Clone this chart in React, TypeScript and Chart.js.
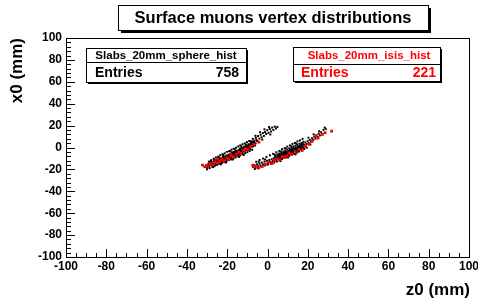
import { useEffect, useRef } from "react";
import { Chart, registerables } from "chart.js";

Chart.register(...registerables);

const TITLE = "Surface muons vertex distributions";
const X_TITLE = "z0 (mm)";
const Y_TITLE = "x0 (mm)";
const AXIS_MIN = -100;
const AXIS_MAX = 100;
const MAJOR_STEP = 20;
const X_MINOR_STEP = 5;
const Y_MINOR_STEP = 4;

const SPHERE_NAME = "Slabs_20mm_sphere_hist";
const SPHERE_ENTRIES = 758;
const ISIS_NAME = "Slabs_20mm_isis_hist";
const ISIS_ENTRIES = 221;

// [z0, x0] pairs (left band)
const sphereLeftBand: number[][] = [
  [-31.2,-17.9],[-30.5,-16.2],[-29.8,-18.4],[-29.4,-15.1],[-28.9,-17.0],[-28.5,-14.3],[-28.0,-15.8],[-27.7,-13.2],
  [-27.2,-16.4],[-26.9,-14.7],[-26.5,-12.6],[-26.1,-13.9],[-25.8,-15.5],[-25.4,-11.8],[-25.1,-13.4],[-24.8,-12.1],
  [-24.4,-14.6],[-24.2,-10.9],[-23.9,-12.8],[-23.5,-11.4],[-23.2,-13.7],[-22.9,-9.8],[-22.7,-12.2],[-22.4,-10.6],
  [-22.1,-11.9],[-21.8,-8.7],[-21.6,-10.3],[-21.3,-12.4],[-21.0,-9.5],[-20.7,-7.9],[-20.5,-11.0],[-20.2,-9.2],
  [-19.9,-7.1],[-19.7,-10.1],[-19.4,-8.4],[-19.1,-6.6],[-18.9,-9.7],[-18.6,-7.5],[-18.3,-5.8],[-18.1,-8.9],
  [-17.8,-6.9],[-17.5,-8.1],[-17.3,-5.2],[-17.0,-7.4],[-16.8,-4.6],[-16.5,-6.3],[-16.2,-8.0],[-16.0,-5.5],
  [-15.7,-3.9],[-15.5,-6.8],[-15.2,-4.8],[-14.9,-3.1],[-14.7,-5.9],[-14.4,-4.2],[-14.1,-2.4],[-13.9,-5.1],
  [-13.6,-3.5],[-13.3,-1.7],[-13.1,-4.4],[-12.8,-2.8],[-12.5,-0.9],[-12.3,-3.9],[-12.0,-2.0],[-11.7,-0.3],
  [-11.5,-3.1],[-11.2,-1.2],[-10.9,0.6],[-10.6,-2.2],[-10.3,-0.4],[-10.1,1.5],[-9.8,-1.3],[-9.5,0.4],
  [-9.2,2.3],[-8.9,-0.5],[-8.6,1.2],[-8.3,3.1],[-8.0,0.3],[-7.7,2.0],[-7.4,3.9],[-7.1,1.1],[-6.8,2.8],
  [-6.5,4.6],[-6.2,1.9],[-5.9,3.7],
  [-23.8,-10.1],[-22.0,-8.1],[-20.9,-10.8],[-19.6,-8.8],[-18.4,-10.3],[-17.6,-4.4],[-16.4,-5.0],[-15.3,-7.3],
  [-14.0,-6.2],[-13.4,-2.6],[-22.5,-13.2],[-26.3,-11.2],[-27.5,-15.0],[-12.6,-4.7],[-11.0,-2.8],[-9.9,-0.1],
  [-8.7,-1.6],[-7.8,4.7],
  [-29.1,-13.0],[-27.9,-11.6],[-26.7,-10.2],[-25.6,-9.1],[-24.5,-8.3],[-23.4,-7.0],[-22.3,-6.1],[-21.2,-5.3],
  [-20.1,-4.0],[-19.0,-3.2],[-17.9,-2.0],[-16.8,-1.1],[-15.6,-0.2],[-14.5,1.0],[-13.5,1.9],[-12.4,3.0],
  [-11.3,3.8],[-10.2,4.9],[-9.1,6.0],[-28.2,-12.4],[-24.0,-9.0],[-21.9,-6.8],[-18.5,-3.6],[-16.1,-2.1],
  [-13.0,0.9],[-10.8,2.7],
  [-30.0,-19.9],[-28.7,-18.8],[-27.4,-17.6],[-26.2,-16.8],[-25.0,-15.9],[-23.7,-14.9],[-22.5,-14.1],[-21.4,-13.3],
  [-20.3,-12.5],[-19.2,-11.4],[-18.0,-10.8],[-16.9,-9.9],[-15.8,-9.0],[-14.6,-7.9],[-13.5,-7.1],[-12.3,-6.0],
  [-11.1,-5.1],[-10.0,-4.3],[-8.9,-3.2],[-7.6,-2.1],[-26.9,-17.9],[-23.1,-15.4],[-20.6,-13.8],[-17.3,-11.0],
  [-14.1,-8.6],[-11.8,-6.8],
  [-25.2,-12.9],[-24.1,-11.6],[-23.0,-10.5],[-21.9,-9.9],[-20.8,-8.6],[-19.8,-7.7],[-18.8,-6.3],[-17.7,-5.9],
  [-16.6,-4.1],[-15.6,-3.3],[-14.6,-2.8],[-13.7,-1.0],[-12.7,-0.3],[-11.6,0.7],[-10.5,1.9],[-9.4,3.0],
  [-8.4,3.9],[-7.5,5.4],[-6.7,5.1],[-5.5,6.9],
  [-8.2,5.6],[-7.3,7.9],[-6.6,6.2],[-5.8,8.8],[-5.1,5.9],[-4.7,10.4],[-4.0,8.1],[-3.4,11.6],[-2.9,9.3],
  [-2.3,13.2],[-1.8,10.6],[-1.2,14.1],[-0.6,12.3],[-0.1,15.8],[0.5,13.4],[1.1,16.9],[1.7,14.6],[2.3,18.2],
  [2.9,16.0],[3.6,19.0],[4.2,17.4],[4.9,18.8],[-3.7,13.9],[-1.5,16.6],[0.8,18.7],[-6.0,10.7],[-2.6,7.2],[1.4,11.9],
];

// [z0, x0] pairs (right band)
const sphereRightBand: number[][] = [
  [-7.2,-17.6],[-6.5,-16.1],[-5.9,-18.3],[-5.2,-15.4],[-4.6,-17.0],[-4.0,-14.6],[-3.4,-16.3],[-2.8,-13.8],
  [-2.1,-15.5],[-1.5,-12.9],[-0.9,-14.8],[-0.3,-12.1],[0.3,-13.9],[0.9,-11.4],[1.5,-13.2],[2.1,-10.8],
  [2.7,-12.4],[-4.3,-12.9],[-1.2,-10.9],[1.8,-15.0],
  [3.1,-9.9],[3.4,-11.6],[3.8,-8.8],[4.1,-10.7],[4.4,-12.3],[4.7,-9.3],[5.0,-7.7],[5.3,-10.1],[5.6,-8.5],
  [5.9,-6.9],[6.2,-9.6],[6.5,-7.8],[6.8,-6.1],[7.1,-8.9],[7.4,-7.0],[7.7,-5.3],[8.0,-8.2],[8.3,-6.4],
  [8.6,-4.7],[8.9,-7.5],[9.2,-5.6],[9.5,-3.9],[9.8,-6.8],[10.1,-4.9],[10.4,-3.2],[10.7,-6.0],[11.0,-4.1],
  [11.3,-2.4],[11.6,-5.3],[11.9,-3.3],[12.2,-1.6],[12.5,-4.5],[12.8,-2.6],[13.1,-0.8],[13.4,-3.7],[13.7,-1.9],
  [14.0,-0.1],[14.3,-3.0],[14.6,-1.1],[14.9,0.7],[15.2,-2.2],[15.5,-0.3],[15.8,1.5],[16.1,-1.4],[16.4,0.5],
  [16.7,2.3],[17.0,-0.6],[17.3,1.3],[17.6,3.1],[17.9,0.2],
  [8.1,-5.1],[9.0,-4.2],[9.7,-5.1],[10.5,-4.2],[11.2,-3.4],[12.0,-2.5],[12.7,-3.6],[13.5,-1.2],[14.2,-2.1],
  [15.0,-0.9],[15.7,0.4],[10.9,-5.3],[12.4,-0.7],[13.9,-1.4],[11.5,-2.1],[9.4,-6.1],
  [-5.6,-13.0],[-3.9,-11.4],[-2.2,-10.1],[-0.5,-8.6],[1.2,-7.1],[2.8,-5.8],[4.4,-4.3],[5.9,-3.1],[7.2,-1.6],
  [8.5,-0.6],[9.8,0.8],[11.1,1.9],[12.4,3.3],[13.6,4.2],[14.9,5.6],[16.1,6.5],[17.4,7.9],[3.6,-6.5],
  [6.6,-3.8],[9.1,-0.9],[11.8,1.2],[14.3,3.6],
  [-6.3,-19.6],[-4.8,-18.9],[-3.1,-17.4],[-1.4,-16.5],[0.2,-15.6],[1.9,-14.3],[3.3,-13.7],[4.6,-12.9],
  [5.9,-11.8],[7.2,-10.5],[8.4,-9.6],[9.6,-8.8],[10.8,-7.6],[12.0,-6.5],[13.2,-5.8],[14.5,-4.7],[15.7,-3.6],
  [16.9,-2.5],[18.2,-1.4],[19.5,-0.2],[6.5,-12.4],[10.2,-9.1],[13.9,-6.2],
  [3.9,-7.5],[4.9,-6.4],[5.8,-5.5],[6.9,-4.8],[7.9,-3.6],[8.8,-2.9],[9.9,-1.9],[10.8,-0.8],[11.9,-0.4],
  [12.9,0.9],[13.9,1.6],[14.8,2.5],[15.9,3.4],[16.9,4.1],[17.8,5.2],[6.0,-7.3],[7.6,-6.6],[10.3,-6.3],
  [12.3,-4.9],[15.3,-3.5],
  [18.3,2.4],[18.8,4.6],[19.4,3.2],[19.9,5.8],[20.5,4.1],[21.0,7.0],[21.6,5.5],[22.1,8.4],[22.7,6.9],
  [23.2,9.8],[23.8,8.1],[24.3,11.2],[24.9,9.6],[25.4,12.6],[26.0,11.0],[26.6,13.9],[27.2,12.5],[27.8,16.1],
  [28.4,18.2],[28.9,17.0],[20.3,8.9],[22.9,12.0],[25.6,14.8],[19.0,0.9],[21.3,2.8],
];

const isisPoints: number[][] = [
  [-32.2,-16.1],[-30.6,-17.3],[-29.5,-16.8],[-28.4,-14.6],[-27.3,-15.9],[-25.9,-13.4],[-24.7,-14.2],
  [-23.8,-12.6],[-22.6,-11.0],[-21.5,-12.1],[-20.1,-9.4],[-19.2,-10.7],[-17.6,-7.9],[-16.7,-8.8],
  [-15.4,-6.0],[-14.3,-4.2],[-13.2,-5.4],[-12.0,-2.5],[-11.0,-1.2],[-9.6,-2.0],[-8.4,0.9],[-6.8,2.7],
  [-4.3,4.9],[-24.9,-10.3],[-18.3,-6.2],
  [-7.3,-16.2],[-6.0,-17.0],[-4.3,-18.6],[-2.6,-17.3],[-1.0,-15.5],[0.7,-13.4],[2.3,-14.6],[3.5,-12.0],
  [4.8,-10.4],[6.1,-11.3],[7.3,-8.5],[8.8,-9.0],[10.6,-4.9],[12.0,-6.1],[13.7,-3.9],[15.6,-1.8],
  [17.2,-2.7],[18.9,1.2],[20.6,3.0],[22.2,5.7],[23.9,10.3],[25.1,8.6],[27.2,11.9],[28.6,13.5],
  [31.8,14.9],[9.7,-7.6],
];

const FONT = '"Liberation Sans", Arial, Helvetica, sans-serif';

function box(ctx: CanvasRenderingContext2D, x: number, y: number, w: number, h: number, sh: number) {
  ctx.fillStyle = "#000";
  ctx.fillRect(x + sh, y + sh, w, h);
  ctx.fillStyle = "#fff";
  ctx.fillRect(x, y, w, h);
  ctx.strokeStyle = "#000";
  ctx.lineWidth = 1;
  ctx.strokeRect(x + 0.5, y + 0.5, w, h);
}

const decorPlugin = {
  id: "rootDecor",
  afterDraw(chart: any) {
    const ctx: CanvasRenderingContext2D = chart.ctx;
    const xs = chart.scales.x;
    const ys = chart.scales.y;
    const L = Math.round(xs.left);
    const R = Math.round(xs.right);
    const T = Math.round(ys.top);
    const B = Math.round(ys.bottom);
    ctx.save();
    ctx.strokeStyle = "#000";
    ctx.lineWidth = 1;
    ctx.strokeRect(L + 0.5, T + 0.5, R - L, B - T);
    ctx.beginPath();
    for (let v = AXIS_MIN; v <= AXIS_MAX; v += X_MINOR_STEP) {
      const px = Math.round(xs.getPixelForValue(v)) + 0.5;
      const len = v % MAJOR_STEP === 0 ? 8 : 4;
      ctx.moveTo(px, B);
      ctx.lineTo(px, B - len);
    }
    for (let v = AXIS_MIN; v <= AXIS_MAX; v += Y_MINOR_STEP) {
      const py = Math.round(ys.getPixelForValue(v)) + 0.5;
      const len = v % MAJOR_STEP === 0 ? 9 : 5;
      ctx.moveTo(L, py);
      ctx.lineTo(L + len, py);
    }
    ctx.stroke();

    // title box
    box(ctx, 118, 5, 310, 25, 3);
    ctx.fillStyle = "#000";
    ctx.font = `bold 16.5px ${FONT}`;
    ctx.textAlign = "center";
    ctx.textBaseline = "middle";
    ctx.fillText(TITLE, 273, 18);

    // stats box sphere
    box(ctx, 86, 48, 160, 34, 2);
    ctx.beginPath();
    ctx.moveTo(86, 62.5);
    ctx.lineTo(246, 62.5);
    ctx.stroke();
    ctx.fillStyle = "#000";
    ctx.font = `bold 11.5px ${FONT}`;
    ctx.textAlign = "center";
    ctx.fillText(SPHERE_NAME, 166, 55.5);
    ctx.font = `bold 14px ${FONT}`;
    ctx.textAlign = "left";
    ctx.fillText("Entries", 95, 73);
    ctx.textAlign = "right";
    ctx.fillText(String(SPHERE_ENTRIES), 239, 73);

    // stats box isis
    box(ctx, 293, 47, 147, 34, 2);
    ctx.beginPath();
    ctx.moveTo(293, 64.5);
    ctx.lineTo(440, 64.5);
    ctx.stroke();
    ctx.fillStyle = "#ff0000";
    ctx.font = `bold 11.5px ${FONT}`;
    ctx.textAlign = "center";
    ctx.fillText(ISIS_NAME, 369, 56);
    ctx.font = `bold 14px ${FONT}`;
    ctx.textAlign = "left";
    ctx.fillText("Entries", 301, 73.5);
    ctx.textAlign = "right";
    ctx.fillText(String(ISIS_ENTRIES), 436, 73.5);

    // axis titles
    ctx.fillStyle = "#000";
    ctx.font = `bold 17px ${FONT}`;
    ctx.textAlign = "right";
    ctx.textBaseline = "alphabetic";
    ctx.fillText(X_TITLE, 470, 295);
    ctx.save();
    ctx.translate(22, 38);
    ctx.rotate(-Math.PI / 2);
    ctx.textAlign = "right";
    ctx.fillText(Y_TITLE, 0, 0);
    ctx.restore();
    ctx.restore();
  },
};

export default function App() {
  const ref = useRef<HTMLCanvasElement | null>(null);
  useEffect(() => {
    if (!ref.current) return;
    const tickFont = { family: FONT, size: 12, weight: "bold" as const };
    const sphereData = sphereLeftBand.concat(sphereRightBand).map((p) => ({ x: p[0], y: p[1] }));
    const chart = new Chart(ref.current, {
      type: "scatter",
      data: {
        datasets: [
          {
            label: ISIS_NAME,
            data: isisPoints.map((p) => ({ x: p[0], y: p[1] })),
            backgroundColor: "#ff0000",
            borderWidth: 0,
            pointStyle: "rect",
            pointRadius: 2,
          },
          {
            label: SPHERE_NAME,
            data: sphereData,
            backgroundColor: "#000000",
            borderWidth: 0,
            pointStyle: "rect",
            pointRadius: 1.4,
          },
        ],
      },
      options: {
        animation: false,
        responsive: false,
        devicePixelRatio: 1,
        events: [],
        layout: { padding: { left: 0, right: 9, top: 38, bottom: 0 } },
        plugins: {
          legend: { display: false },
          tooltip: { enabled: false },
          title: { display: false },
        },
        scales: {
          x: {
            type: "linear",
            position: "bottom",
            min: AXIS_MIN,
            max: AXIS_MAX,
            grid: { display: false, drawTicks: false },
            border: { display: false },
            ticks: {
              stepSize: MAJOR_STEP,
              autoSkip: false,
              maxRotation: 0,
              padding: 2,
              color: "#000",
              font: tickFont,
              callback: (v: any) => String(v),
            },
            afterFit: (s: any) => {
              s.height = 43;
              s.paddingLeft = 0;
              s.paddingRight = 0;
            },
          },
          y: {
            type: "linear",
            position: "left",
            min: AXIS_MIN,
            max: AXIS_MAX,
            grid: { display: false, drawTicks: false },
            border: { display: false },
            ticks: {
              stepSize: MAJOR_STEP,
              autoSkip: false,
              padding: 4,
              color: "#000",
              font: tickFont,
              callback: (v: any) => String(v),
            },
            afterFit: (s: any) => {
              s.width = 66;
              s.paddingTop = 0;
              s.paddingBottom = 0;
            },
          },
        },
      },
      plugins: [decorPlugin],
    });
    return () => chart.destroy();
  }, []);
  return (
    <div style={{ position: "absolute", left: 0, top: 0, width: 478, height: 300, background: "#fff" }}>
      <canvas ref={ref} width={478} height={300} style={{ width: 478, height: 300 }} />
    </div>
  );
}
